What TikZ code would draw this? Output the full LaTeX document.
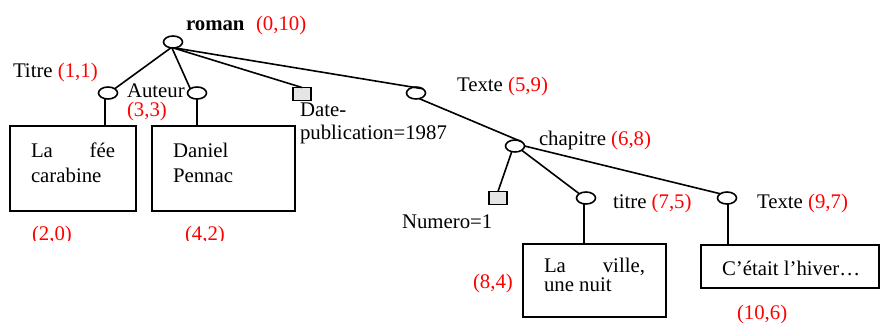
\documentclass[tikz,border=0pt]{standalone}
\usepackage{fontspec}
\setmainfont{Liberation Serif}
\usetikzlibrary{shapes.geometric}
\begin{document}
\begin{tikzpicture}[x=1pt,y=-1pt,
  every node/.style={font=\fontsize{20.8}{25}\selectfont, inner sep=0pt, outer sep=0pt},
  ov/.style={draw, ellipse, minimum width=19pt, minimum height=12pt, line width=1.6pt},
  sq/.style={draw, rectangle, fill=black!10, minimum width=18pt, minimum height=13pt, line width=1.6pt},
  bx/.style={draw, rectangle, anchor=north west, line width=1.6pt},
  lbl/.style={anchor=base west},
  rlbl/.style={anchor=base west, text=red},
  ln/.style={line width=1.6pt}]
\useasboundingbox (0,0) rectangle (881,322);
% boxes
\node[bx, minimum width=126pt, minimum height=85pt] (b1) at (10,126) {};
\node[bx, minimum width=143pt, minimum height=85pt] (b2) at (152,126) {};
\node[bx, minimum width=143pt, minimum height=73pt] (b3) at (523,244) {};
\node[bx, minimum width=178pt, minimum height=43pt] (b4) at (701,245) {};
% tree nodes
\node[ov] (roman) at (173,42) {};
\node[ov] (t1) at (108,93) {};
\node[ov] (aut) at (197,93) {};
\node[sq] (date) at (302,94) {};
\node[ov] (tx1) at (416,93) {};
\node[ov] (chap) at (515,146) {};
\node[sq] (num) at (498,198) {};
\node[ov] (t2) at (586,198) {};
\node[ov] (tx2) at (727,198) {};
% connectors
\draw[ln] (roman.250) -- (t1.north east);
\draw[ln] (roman.260) -- (aut.north west);
\draw[ln] (roman.275) -- (date.north);
\draw[ln] (roman.285) -- (tx1.north east);
\draw[ln] (tx1.-60) -- (chap.north east);
\draw[ln] (chap.240) -- (num.north);
\draw[ln] (chap.south east) -- (t2.north west);
\draw[ln] (chap.east) -- (tx2.north west);
\draw[ln] (t1.south) ++(-3,0) coordinate (t1s) -- (t1s |- b1.north);
\draw[ln] (aut.south) -- (aut.south |- b2.north);
\draw[ln] (t2.south) ++(-2,0) coordinate (t2s) -- (t2s |- b3.north);
\draw[ln] (tx2.south) ++(1,0) coordinate (tx2s) -- (tx2s |- b4.north);
% labels
\node[lbl] (lroman) at (186,30) {\textbf{roman}};
\node[rlbl] (lroman2) at (256,30) {(0,10)};
\node[lbl] (ltitre) at (13,77) {Titre \textcolor{red}{(1,1)}};
\node[lbl] (laut) at (127,97) {Auteur};
\node[rlbl] (laut2) at (127,116) {(3,3)};
\node[lbl] (ldate) at (300,116) {Date-};
\node[lbl] (ldate2) at (300,139) {publication=1987};
\node[lbl] (lfee) at (31,157) {\makebox[84pt][s]{La fée}};
\node[lbl] (lcar) at (31,182) {carabine};
\node[lbl] (ldan) at (173,157) {Daniel};
\node[lbl] (lpen) at (173,182) {Pennac};
\begin{scope}
\clip (0,0) rectangle (450,240);
\node[rlbl] (l20) at (32,240.5) {(2,0)};
\node[rlbl] (l42) at (185,240.5) {(4,2)};
\end{scope}
\node[lbl] (ltx1) at (457,91) {Texte \textcolor{red}{(5,9)}};
\node[lbl] (lchap) at (539,145) {chapitre \textcolor{red}{(6,8)}};
\node[lbl] (lnum) at (402,228) {Numero=1};
\node[lbl] (lt2) at (613,208) {titre \textcolor{red}{(7,5)}};
\node[lbl] (ltx2) at (757,208) {Texte \textcolor{red}{(9,7)}};
\node[lbl] (lvil) at (544,272) {\makebox[101pt][s]{La ville,}};
\node[lbl] (lnuit) at (544,291) {une nuit};
\node[rlbl] (l84) at (473,288) {(8,4)};
\node[lbl] (lhiv) at (722,275) {C’était l’hiver…};
\node[rlbl] (l106) at (737,319) {(10,6)};
\end{tikzpicture}
\end{document}
